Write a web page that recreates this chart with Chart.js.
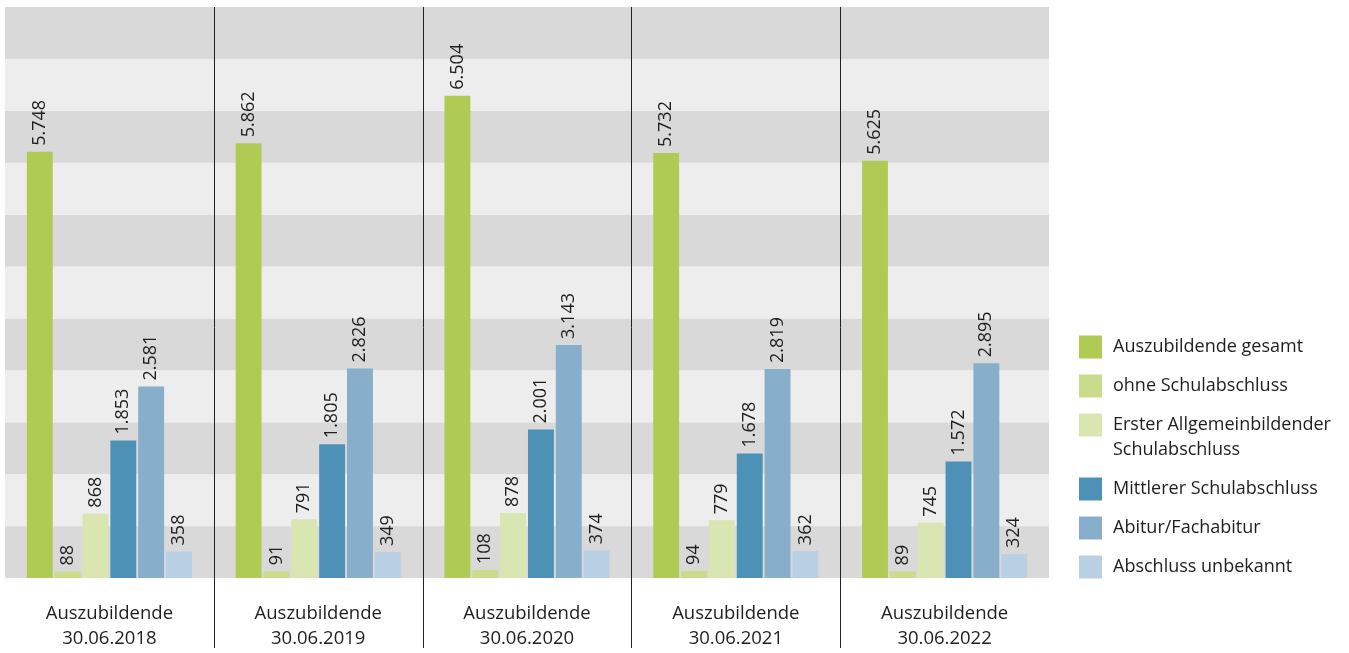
<!DOCTYPE html>
<html lang="de">
<head>
<meta charset="utf-8">
<title>Auszubildende nach Schulabschluss</title>
<script src="https://cdn.jsdelivr.net/npm/chart.js@4.4.1/dist/chart.umd.min.js"></script>
<style>
    html, body { margin: 0; padding: 0; background: #fff; }
    #chart { display: block; }
</style>
</head>
<body>
<canvas id="chart" width="1349" height="653"></canvas>
<script>
const categories = [
    ['Auszubildende', '30.06.2018'],
    ['Auszubildende', '30.06.2019'],
    ['Auszubildende', '30.06.2020'],
    ['Auszubildende', '30.06.2021'],
    ['Auszubildende', '30.06.2022']
];

const gesamt = [5748, 5862, 6504, 5732, 5625];
const ohneAbschluss = [88, 91, 108, 94, 89];
const ersterAbschluss = [868, 791, 878, 779, 745];
const mittlererAbschluss = [1853, 1805, 2001, 1678, 1572];
const abitur = [2581, 2826, 3143, 2819, 2895];
const unbekannt = [358, 349, 374, 362, 324];

const yMax = 7700;
const yStep = 700;

const FONT = '"Open Sans", "Noto Sans", sans-serif';
const TEXT_COLOR = '#1e1e1e';

function formatDe(v) {
    return String(v).replace(/\B(?=(\d{3})+(?!\d))/g, '.');
}

// alternating horizontal bands behind the bars
const bandsPlugin = {
    id: 'bands',
    beforeDatasetsDraw(chart) {
        const { ctx, chartArea, scales } = chart;
        const y = scales.y;
        ctx.save();
        for (let v = 0, i = 0; v < yMax; v += yStep, i++) {
            const top = y.getPixelForValue(v + yStep);
            const bottom = y.getPixelForValue(v);
            ctx.fillStyle = i % 2 === 0 ? '#d9d9d9' : '#ededed';
            ctx.fillRect(chartArea.left, top, chartArea.right - chartArea.left, bottom - top);
        }
        ctx.restore();
    }
};

// thin vertical dividers between the year groups
const dividerPlugin = {
    id: 'dividers',
    afterDraw(chart) {
        const { ctx, chartArea, scales } = chart;
        const x = scales.x;
        ctx.save();
        ctx.strokeStyle = '#222';
        ctx.lineWidth = 1;
        for (let i = 1; i < categories.length; i++) {
            const px = Math.round((x.getPixelForValue(i - 1) + x.getPixelForValue(i)) / 2) + 0.5;
            ctx.beginPath();
            ctx.moveTo(px, chartArea.top);
            ctx.lineTo(px, 648);
            ctx.stroke();
        }
        ctx.restore();
    }
};

// rotated value labels on top of each bar
const valueLabelPlugin = {
    id: 'valueLabels',
    afterDatasetsDraw(chart) {
        const { ctx } = chart;
        ctx.save();
        ctx.font = '18px ' + FONT;
        ctx.fillStyle = TEXT_COLOR;
        ctx.textAlign = 'left';
        ctx.textBaseline = 'middle';
        chart.data.datasets.forEach((ds, di) => {
            const meta = chart.getDatasetMeta(di);
            meta.data.forEach((bar, i) => {
                ctx.save();
                ctx.translate(bar.x, bar.y - 6);
                ctx.rotate(-Math.PI / 2);
                ctx.fillText(formatDe(ds.data[i]), 0, 0);
                ctx.restore();
            });
        });
        ctx.restore();
    }
};

// legend on the right, supports two-line labels
const sideLegendPlugin = {
    id: 'sideLegend',
    afterDraw(chart) {
        const { ctx } = chart;
        const boxX = 1079;
        const textX = 1113;
        const box = 23;
        const lineH = 25;
        let cy = 347;
        ctx.save();
        ctx.font = '18px ' + FONT;
        ctx.textAlign = 'left';
        ctx.textBaseline = 'middle';
        chart.data.datasets.forEach(ds => {
            const lines = Array.isArray(ds.label) ? ds.label : [ds.label];
            ctx.fillStyle = ds.backgroundColor;
            ctx.fillRect(boxX, cy - box / 2, box, box);
            ctx.fillStyle = TEXT_COLOR;
            lines.forEach((t, li) => ctx.fillText(t, textX, cy + li * lineH));
            cy += 39 + (lines.length - 1) * lineH;
        });
        ctx.restore();
    }
};

const series = [
    { label: 'Auszubildende gesamt', data: gesamt, color: '#b0cb53' },
    { label: 'ohne Schulabschluss', data: ohneAbschluss, color: '#c8dc8c' },
    { label: ['Erster Allgemeinbildender', 'Schulabschluss'], data: ersterAbschluss, color: '#d9e6b1' },
    { label: 'Mittlerer Schulabschluss', data: mittlererAbschluss, color: '#4d91b6' },
    { label: 'Abitur/Fachabitur', data: abitur, color: '#87aeca' },
    { label: 'Abschluss unbekannt', data: unbekannt, color: '#b9cfe3' }
];

new Chart(document.getElementById('chart').getContext('2d'), {
    type: 'bar',
    data: {
        labels: categories,
        datasets: series.map(s => ({
            label: s.label,
            data: s.data,
            backgroundColor: s.color,
            borderWidth: 0,
            categoryPercentage: 0.8,
            barPercentage: 0.93
        }))
    },
    options: {
        responsive: false,
        animation: false,
        layout: {
            padding: { left: 5, right: 300, top: 7, bottom: 0 }
        },
        plugins: {
            legend: { display: false },
            tooltip: { enabled: false }
        },
        scales: {
            x: {
                grid: { display: false, drawTicks: false },
                border: { display: false },
                ticks: {
                    color: TEXT_COLOR,
                    font: { family: FONT, size: 18.5, lineHeight: 1.32 },
                    padding: 24,
                    maxRotation: 0
                },
                afterFit(scale) {
                    scale.height = 75;
                }
            },
            y: {
                display: false,
                min: 0,
                max: yMax,
                ticks: { stepSize: yStep }
            }
        }
    },
    plugins: [bandsPlugin, dividerPlugin, valueLabelPlugin, sideLegendPlugin]
});
</script>
</body>
</html>
